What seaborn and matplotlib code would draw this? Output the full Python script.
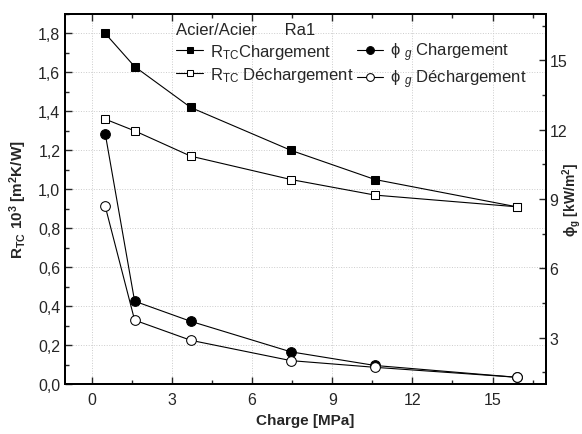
import matplotlib
matplotlib.use('Agg')
import matplotlib.pyplot as plt
import seaborn as sns
import pandas as pd
from matplotlib.ticker import MultipleLocator, FuncFormatter

# data
charge = [0.5, 1.6, 3.7, 7.45, 10.6, 15.9]
rtc_charg = [1.80, 1.63, 1.42, 1.20, 1.05, 0.91]
rtc_decharg = [1.36, 1.30, 1.17, 1.05, 0.97, 0.91]
phi_charg = [11.82, 4.58, 3.71, 2.39, 1.80, 1.29]
phi_decharg = [8.68, 3.76, 2.89, 2.01, 1.72, 1.29]

sns.set_style("ticks")
plt.rcParams['font.family'] = ['Liberation Sans', 'DejaVu Sans']
plt.rcParams['mathtext.fontset'] = 'custom'
plt.rcParams['mathtext.rm'] = 'Liberation Sans'
plt.rcParams['mathtext.it'] = 'Liberation Sans:italic'
plt.rcParams['mathtext.bf'] = 'Liberation Sans:bold'

df = pd.DataFrame({'charge': charge, 'rtc_c': rtc_charg, 'rtc_d': rtc_decharg,
                   'phi_c': phi_charg, 'phi_d': phi_decharg})

fig = plt.figure(figsize=(5.82, 4.35), dpi=100)
ax = fig.add_axes([0.112, 0.115, 0.826, 0.8505])
ax2 = ax.twinx()

lw = 0.8
ms = 6
sns.lineplot(data=df, x='charge', y='rtc_c', ax=ax, color='black', lw=lw,
             marker='s', markersize=ms, markerfacecolor='black', markeredgecolor='black')
sns.lineplot(data=df, x='charge', y='rtc_d', ax=ax, color='black', lw=lw,
             marker='s', markersize=ms, markerfacecolor='white', markeredgecolor='black')
sns.lineplot(data=df, x='charge', y='phi_c', ax=ax2, color='black', lw=lw,
             marker='o', markersize=ms + 1, markerfacecolor='black', markeredgecolor='black')
sns.lineplot(data=df, x='charge', y='phi_d', ax=ax2, color='black', lw=lw,
             marker='o', markersize=ms + 1, markerfacecolor='white', markeredgecolor='black')

ax.set_xlim(-1, 17)
ax.set_ylim(0, 1.9)
ax2.set_ylim(1, 17)

ax.xaxis.set_major_locator(MultipleLocator(3))
ax.xaxis.set_minor_locator(MultipleLocator(1.5))
ax.yaxis.set_major_locator(MultipleLocator(0.2))
ax.yaxis.set_minor_locator(MultipleLocator(0.1))
ax.yaxis.set_major_formatter(FuncFormatter(lambda v, p: f'{v:.1f}'.replace('.', ',')))
ax2.yaxis.set_major_locator(MultipleLocator(3))
ax2.yaxis.set_minor_locator(MultipleLocator(1.5))

ax.tick_params(axis='x', which='both', direction='in', top=True, labelsize=11.5, pad=6)
ax.tick_params(axis='y', which='both', direction='in', labelsize=11.5)
ax2.tick_params(axis='y', which='both', direction='in', labelsize=11.5, pad=2.5)
ax.tick_params(which='major', length=5, width=1)
ax.tick_params(which='minor', length=3, width=1)
ax2.tick_params(which='major', length=5, width=1)
ax2.tick_params(which='minor', length=3, width=1)

ax.grid(True, which='major', linestyle=':', color='#cccccc', lw=0.7)
for a in (ax, ax2):
    for s in a.spines.values():
        s.set_linewidth(1.4)
        s.set_color('black')

ax.set_xlabel('Charge [MPa]', fontsize=11, fontweight='bold')
ax.set_ylabel(r'R$_{\mathbf{TC}}$ 10$^{\mathbf{3}}$ [m$^{\mathbf{2}}$K/W]', fontsize=11, fontweight='bold')
ax2.set_ylabel(r'ϕ$_{\mathbf{g}}$ [kW/m$^{\mathbf{2}}$]', fontsize=10, fontweight='bold')
ax.yaxis.set_label_coords(-0.075, 0.5)
ax2.yaxis.set_label_coords(1.029, 0.5)

h = ax.get_lines()[:2] + ax2.get_lines()[:2]
labels = [r'R$_{\mathrm{TC}}$Chargement', r'R$_{\mathrm{TC}}$ Déchargement',
          r'ϕ $_{g}$ Chargement', r'ϕ $_{g}$ Déchargement']
ax.legend(h, labels, title='Acier/Acier      Ra1', ncol=2, frameon=False,
          loc='upper left', bbox_to_anchor=(0.2, 1.02), fontsize=12,
          title_fontsize=12, alignment='left', handlelength=1.6,
          handletextpad=0.4, columnspacing=0.2, labelspacing=0.25,
          markerscale=0.8)

fig.savefig('out.png', dpi=100)
